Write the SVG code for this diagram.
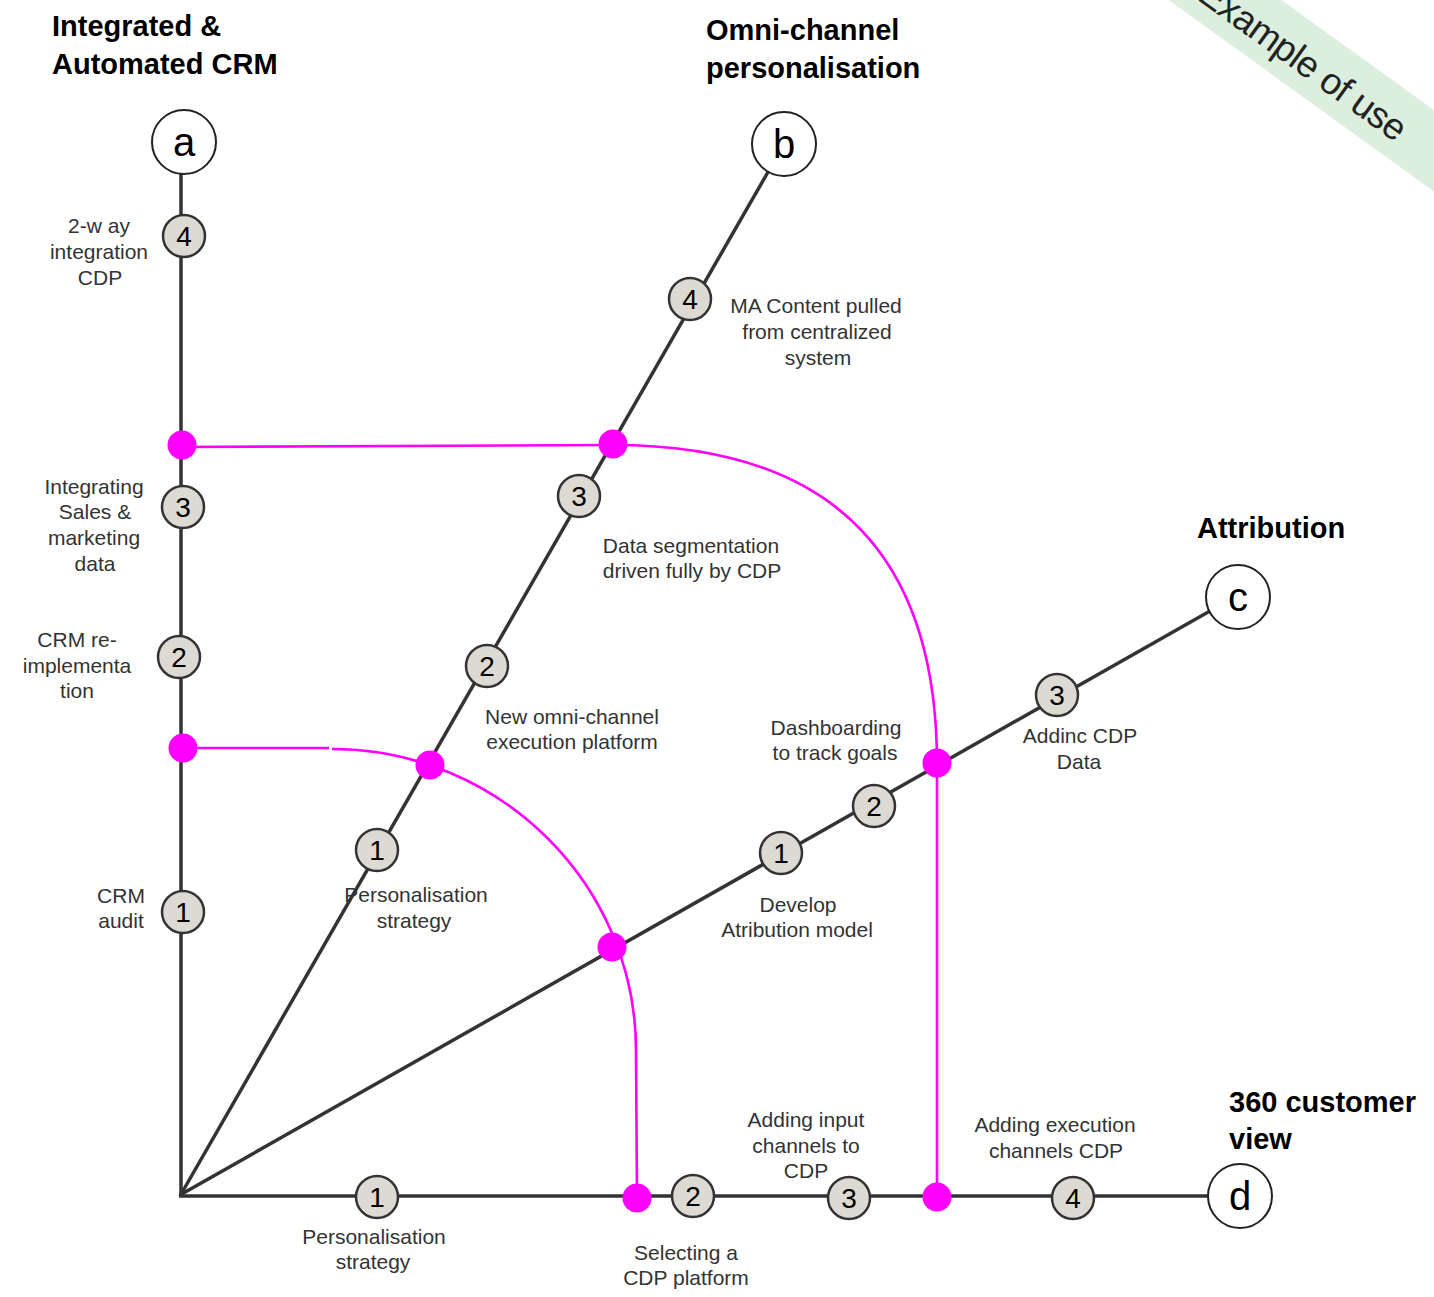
<svg xmlns="http://www.w3.org/2000/svg" width="1434" height="1297" viewBox="0 0 1434 1297">
<style>
.title{font-family:"Liberation Sans",Arial,sans-serif;font-size:29px;font-weight:bold;fill:#000}
.lbl{font-family:"Liberation Sans",Arial,sans-serif;font-size:21px;fill:#333;text-anchor:middle}
.num{font-family:"Liberation Sans",Arial,sans-serif;font-size:28px;fill:#000;text-anchor:middle}
.let{font-family:"Liberation Sans",Arial,sans-serif;font-size:40px;fill:#000;text-anchor:middle}
.track{stroke:#333;stroke-width:3.5;fill:none}
.link{stroke:#ff00ff;stroke-width:2.6;fill:none}
.stop{fill:#dcdad2;stroke:#333;stroke-width:2.5}
.end{fill:#fff;stroke:#222;stroke-width:2}
.dot{fill:#ff00ff}
</style>

<g id="banner">
<g transform="translate(1225,0) rotate(35.8)">
<rect x="-80" y="-33" width="420" height="66" fill="#dcefdf"/>
<text x="-24" y="16" font-family="'Liberation Sans',Arial,sans-serif" font-size="37" letter-spacing="-0.7" fill="#222">Example of use</text>
</g>
</g>

<g id="titles">
<text class="title" x="52" y="36">Integrated &amp;</text>
<text class="title" x="52" y="74">Automated CRM</text>
<text class="title" x="706" y="40">Omni-channel</text>
<text class="title" x="706" y="78">personalisation</text>
<text class="title" x="1197" y="538">Attribution</text>
<text class="title" x="1229" y="1112">360 customer</text>
<text class="title" x="1229" y="1149">view</text>
</g>

<g id="connectors">
<line class="track" x1="181" y1="1196" x2="181" y2="174"/>
<line class="track" x1="180" y1="1196" x2="768" y2="172"/>
<line class="track" x1="180" y1="1195" x2="1210" y2="611"/>
<line class="track" x1="179" y1="1196" x2="1208" y2="1196"/>
<path class="link" d="M182,447 L613,445"/>
<path class="link" d="M613,445 C863,445 937,588 937,764 L937,1197"/>
<path class="link" d="M183,748 L329,748"/>
<path class="link" d="M332,749 C499,749 636,884 636,1050 L637,1198"/>
</g>

<g id="node-a"><circle class="end" cx="184" cy="142" r="32"/><text class="let" x="184" y="156">a</text></g>
<g id="node-b"><circle class="end" cx="784" cy="144" r="32"/><text class="let" x="784" y="158">b</text></g>
<g id="node-c"><circle class="end" cx="1238" cy="597" r="32"/><text class="let" x="1238" y="611">c</text></g>
<g id="node-d"><circle class="end" cx="1240" cy="1196" r="32"/><text class="let" x="1240" y="1210">d</text></g>

<g id="junctions">
<circle class="dot" cx="182" cy="445" r="14.5"/>
<circle class="dot" cx="613" cy="444" r="14.5"/>
<circle class="dot" cx="183" cy="748" r="14.5"/>
<circle class="dot" cx="430" cy="765" r="14.5"/>
<circle class="dot" cx="612" cy="947" r="14.5"/>
<circle class="dot" cx="637" cy="1198" r="14.5"/>
<circle class="dot" cx="937" cy="763" r="14.5"/>
<circle class="dot" cx="937" cy="1197" r="14.5"/>
</g>

<g id="a4"><circle class="stop" cx="184" cy="236" r="21"/><text class="num" x="184" y="246">4</text>
<text class="lbl" x="99" y="233">2-w ay</text><text class="lbl" x="99" y="259">integration</text><text class="lbl" x="100" y="285">CDP</text></g>
<g id="a3"><circle class="stop" cx="183" cy="507" r="21"/><text class="num" x="183" y="517">3</text>
<text class="lbl" x="94" y="494">Integrating</text><text class="lbl" x="95" y="519">Sales &amp;</text><text class="lbl" x="94" y="545">marketing</text><text class="lbl" x="95" y="571">data</text></g>
<g id="a2"><circle class="stop" cx="179" cy="657" r="21"/><text class="num" x="179" y="667">2</text>
<text class="lbl" x="77" y="647">CRM re-</text><text class="lbl" x="77" y="673">implementa</text><text class="lbl" x="77" y="698">tion</text></g>
<g id="a1"><circle class="stop" cx="183" cy="912" r="21"/><text class="num" x="183" y="922">1</text>
<text class="lbl" x="121" y="903">CRM</text><text class="lbl" x="121" y="928">audit</text></g>

<g id="b4"><circle class="stop" cx="690" cy="299" r="21"/><text class="num" x="690" y="309">4</text>
<text class="lbl" x="816" y="313">MA Content pulled</text><text class="lbl" x="817" y="339">from centralized</text><text class="lbl" x="818" y="365">system</text></g>
<g id="b3"><circle class="stop" cx="579" cy="496" r="21"/><text class="num" x="579" y="506">3</text>
<text class="lbl" x="691" y="553">Data segmentation</text><text class="lbl" x="692" y="578">driven fully by CDP</text></g>
<g id="b2"><circle class="stop" cx="487" cy="666" r="21"/><text class="num" x="487" y="676">2</text>
<text class="lbl" x="572" y="724">New omni-channel</text><text class="lbl" x="572" y="749">execution platform</text></g>
<g id="b1"><circle class="stop" cx="377" cy="850" r="21"/><text class="num" x="377" y="860">1</text>
<text class="lbl" x="416" y="902">Personalisation</text><text class="lbl" x="414" y="928">strategy</text></g>

<g id="c3"><circle class="stop" cx="1057" cy="695" r="21"/><text class="num" x="1057" y="705">3</text>
<text class="lbl" x="1080" y="743">Addinc CDP</text><text class="lbl" x="1079" y="769">Data</text></g>
<g id="c2"><circle class="stop" cx="874" cy="806" r="21"/><text class="num" x="874" y="816">2</text>
<text class="lbl" x="836" y="735">Dashboarding</text><text class="lbl" x="835" y="760">to track goals</text></g>
<g id="c1"><circle class="stop" cx="781" cy="853" r="21"/><text class="num" x="781" y="863">1</text>
<text class="lbl" x="798" y="912">Develop</text><text class="lbl" x="797" y="937">Atribution model</text></g>

<g id="d1"><circle class="stop" cx="377" cy="1197" r="21"/><text class="num" x="377" y="1207">1</text>
<text class="lbl" x="374" y="1244">Personalisation</text><text class="lbl" x="373" y="1269">strategy</text></g>
<g id="d2"><circle class="stop" cx="693" cy="1196" r="21"/><text class="num" x="693" y="1206">2</text>
<text class="lbl" x="686" y="1260">Selecting a</text><text class="lbl" x="686" y="1285">CDP platform</text></g>
<g id="d3"><circle class="stop" cx="849" cy="1198" r="21"/><text class="num" x="849" y="1208">3</text>
<text class="lbl" x="806" y="1127">Adding input</text><text class="lbl" x="806" y="1153">channels to</text><text class="lbl" x="806" y="1178">CDP</text></g>
<g id="d4"><circle class="stop" cx="1073" cy="1198" r="21"/><text class="num" x="1073" y="1208">4</text>
<text class="lbl" x="1055" y="1132">Adding execution</text><text class="lbl" x="1056" y="1158">channels CDP</text></g>
</svg>
